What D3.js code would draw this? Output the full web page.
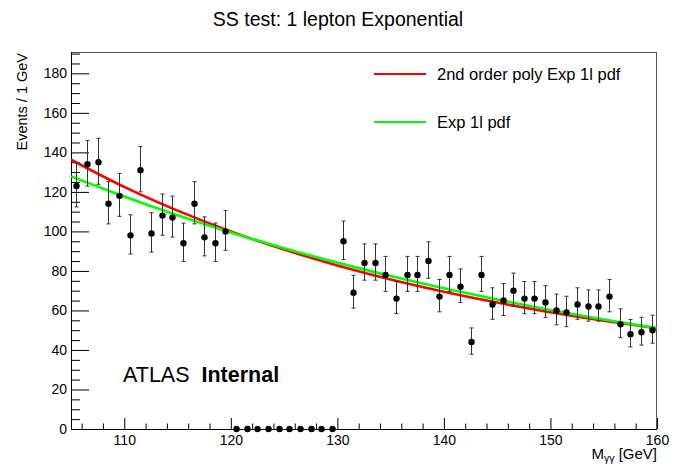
<!DOCTYPE html>
<html>
<head>
<meta charset="utf-8">
<script src="https://cdn.jsdelivr.net/npm/d3@7"></script>
<style>
  html, body { margin: 0; padding: 0; background: #fff; }
  svg { display: block; font-family: "Liberation Sans", Arial, Helvetica, sans-serif; }
</style>
</head>
<body>
<svg id="chart" width="673" height="468"></svg>
<script>
// ---- Data ----
const binCenters = [105.5,106.5,107.5,108.5,109.5,110.5,111.5,112.5,113.5,114.5,115.5,116.5,117.5,118.5,119.5,
  120.5,121.5,122.5,123.5,124.5,125.5,126.5,127.5,128.5,129.5,
  130.5,131.5,132.5,133.5,134.5,135.5,136.5,137.5,138.5,139.5,140.5,141.5,142.5,143.5,144.5,145.5,146.5,147.5,148.5,149.5,
  150.5,151.5,152.5,153.5,154.5,155.5,156.5,157.5,158.5,159.5];
const counts = [123,134,135,114,118,98,131,99,108,107,94,114,97,94,100,
  0,0,0,0,0,0,0,0,0,0,
  95,69,84,84,78,66,78,78,85,67,78,72,44,78,63,65,70,66,66,64,
  60,59,63,62,62,67,53,48,49,50];
const curveX = [105,110,115,120,125,130,135,140,145,150,155,160];
const polyExpValues = [136.3,122.5,110.5,100.0,90.8,82.8,75.7,69.5,64.0,59.1,54.8,51.0];
const expValues = [127.9,117.7,108.2,99.5,91.5,84.2,77.4,71.2,65.5,60.2,55.4,51.0];
const yTicks = [0,20,40,60,80,100,120,140,160,180];
const xTicks = [110,120,130,140,150,160];
const legendLabels = ["2nd order poly Exp 1l pdf", "Exp 1l pdf"];
const legendColors = ["#ff0000", "#00ff00"];
const titleText = "SS test: 1 lepton Exponential";

// ---- Layout ----
const svg = d3.select("#chart");
const L = 71, R = 657, T = 52, B = 429;
const x = d3.scaleLinear().domain([105, 160]).range([L, R]);
const y = d3.scaleLinear().domain([0, 190.8]).range([B, T]);

svg.append("rect").attr("width", 673).attr("height", 468).attr("fill", "#fff");

svg.append("defs").append("clipPath").attr("id", "plotclip")
  .append("rect").attr("x", L).attr("y", T).attr("width", R - L).attr("height", B - T);

// Title
svg.append("text").attr("x", 338).attr("y", 26).attr("text-anchor", "middle")
  .attr("font-size", 19.5).attr("fill", "#000").text(titleText);

// Axes
const yMinor = d3.range(0, 191, 5).filter(v => v % 20 !== 0);
const xMinor = d3.range(106, 160, 2).filter(v => v % 10 !== 0);

const yAxis = d3.axisLeft(y).tickValues(yTicks).tickSize(-18).tickPadding(4).tickFormat(d3.format("d"));
const gy = svg.append("g").attr("transform", `translate(${L},0)`).call(yAxis);
gy.select(".domain").remove();
gy.selectAll("text").attr("font-size", 14).attr("font-family", "Liberation Sans, Arial, sans-serif").attr("fill", "#000");
gy.selectAll("line").attr("stroke", "#000");
const gyMinor = svg.append("g").attr("transform", `translate(${L},0)`)
  .call(d3.axisLeft(y).tickValues(yMinor).tickSize(-9).tickFormat(""));
gyMinor.select(".domain").remove();
gyMinor.selectAll("line").attr("stroke", "#000");

const xAxis = d3.axisBottom(x).tickValues(xTicks).tickSize(-11).tickPadding(6).tickFormat(d3.format("d"));
const gx = svg.append("g").attr("transform", `translate(0,${B})`).call(xAxis);
gx.select(".domain").remove();
gx.selectAll("text").attr("font-size", 14).attr("font-family", "Liberation Sans, Arial, sans-serif").attr("fill", "#000");
gx.selectAll("line").attr("stroke", "#000");
const gxMinor = svg.append("g").attr("transform", `translate(0,${B})`)
  .call(d3.axisBottom(x).tickValues(xMinor).tickSize(-5.5).tickFormat(""));
gxMinor.select(".domain").remove();
gxMinor.selectAll("line").attr("stroke", "#000");

// frame
svg.append("rect").attr("x", L + 0.5).attr("y", T + 0.5).attr("width", R - L - 1).attr("height", B - T)
  .attr("fill", "none").attr("stroke", "#555").attr("stroke-width", 1);
svg.append("line").attr("x1", L + 0.5).attr("x2", L + 0.5).attr("y1", T).attr("y2", B + 0.5).attr("stroke", "#000");
svg.append("line").attr("x1", L).attr("x2", R).attr("y1", B + 0.5).attr("y2", B + 0.5).attr("stroke", "#000");

// Axis titles
svg.append("text").attr("transform", `translate(27,${T + 1}) rotate(-90)`).attr("text-anchor", "end")
  .attr("font-size", 14.5).attr("fill", "#000").text("Events / 1 GeV");
const xt = svg.append("text").attr("x", R).attr("y", 459).attr("text-anchor", "end")
  .attr("font-size", 15).attr("fill", "#000");
xt.append("tspan").text("M");
xt.append("tspan").attr("font-size", 10.5).attr("dy", 3).text("γγ");
xt.append("tspan").attr("dy", -3).text(" [GeV]");

// Curves
const plot = svg.append("g").attr("clip-path", "url(#plotclip)");
const line = d3.line().x(d => x(d[0])).y(d => y(d[1])).curve(d3.curveNatural);
plot.append("path").datum(curveX.map((v, i) => [v, polyExpValues[i]]))
  .attr("d", line).attr("fill", "none").attr("stroke", legendColors[0]).attr("stroke-width", 2.6);
plot.append("path").datum(curveX.map((v, i) => [v, expValues[i]]))
  .attr("d", line).attr("fill", "none").attr("stroke", legendColors[1]).attr("stroke-width", 2.6);

// Data points with Poisson errors
const pts = binCenters.map((c, i) => {
  const n = counts[i];
  const s = Math.sqrt(n + 0.25);
  return { x: c, n: n, lo: Math.max(0, n - s + 0.5), hi: n + s + 0.5 };
});
const eg = plot.append("g").attr("stroke", "#333").attr("stroke-width", 1);
pts.filter(p => p.n > 0).forEach(p => {
  const px = Math.round(x(p.x)) + 0.5;
  eg.append("line").attr("x1", px).attr("x2", px).attr("y1", y(p.lo)).attr("y2", y(p.hi));
  eg.append("line").attr("x1", px - 2).attr("x2", px + 2).attr("y1", y(p.lo)).attr("y2", y(p.lo));
  eg.append("line").attr("x1", px - 2).attr("x2", px + 2).attr("y1", y(p.hi)).attr("y2", y(p.hi));
});
svg.append("g").selectAll("circle").data(pts).join("circle")
  .attr("cx", d => Math.round(x(d.x)) + 0.5).attr("cy", d => y(d.n)).attr("r", 3.2).attr("fill", "#000");

// Legend
const lg = svg.append("g");
legendLabels.forEach((lab, i) => {
  const ly = 74 + i * 48;
  lg.append("line").attr("x1", 374).attr("x2", 426).attr("y1", ly).attr("y2", ly)
    .attr("stroke", legendColors[i]).attr("stroke-width", 2);
  lg.append("text").attr("x", 437).attr("y", ly + 5.5).attr("font-size", 16.5).attr("fill", "#000").text(lab);
});

// ATLAS label
const at = svg.append("text").attr("x", 123).attr("y", 382).attr("font-size", 21.5).attr("fill", "#000");
at.append("tspan").text("ATLAS");
at.append("tspan").attr("font-weight", "bold").attr("dx", 12).text("Internal");
</script>
</body>
</html>
